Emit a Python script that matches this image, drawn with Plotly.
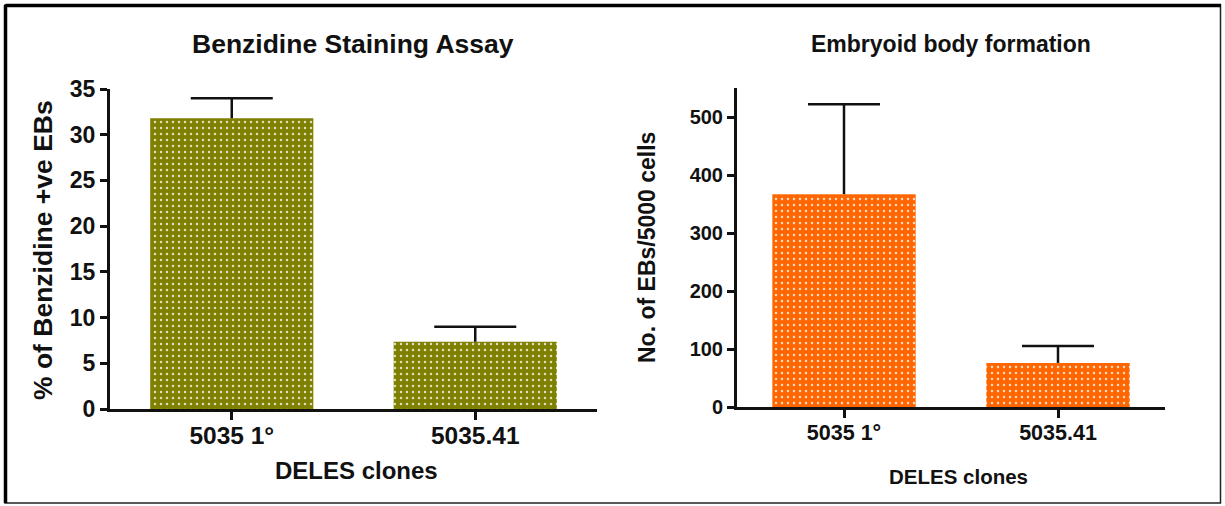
import plotly.graph_objects as go

W, H = 1225, 506

# Data
clones = ["5035 1°", "5035.41"]
benzidine_pct = [31.8, 7.35]
benzidine_err = [2.2, 1.65]
eb_counts = [367, 76]
eb_err = [155, 29]

left_ticks = [0, 5, 10, 15, 20, 25, 30, 35]
right_ticks = [0, 100, 200, 300, 400, 500]

OLIVE = "#7f7f00"
ORANGE = "#ff6600"
INK = "#111111"
FONT = "Liberation Sans, Arial, sans-serif"


def px_x(x):
    return x / W


def px_y(y):
    return 1 - y / H


def dotted(color):
    return dict(color=color, line=dict(width=0),
                pattern=dict(shape=".", fgcolor="white", fgopacity=0.75,
                             size=6, solidity=0.14))


fig = go.Figure()


def bars_with_sd(values, errors, color, cap, xa, ya):
    # bar with an upward-only stem for the SD
    fig.add_trace(go.Bar(
        x=clones, y=values, width=0.67, marker=dotted(color),
        error_y=dict(type="data", array=errors, arrayminus=[0] * len(errors),
                     symmetric=False, color=INK, thickness=2.5, width=0),
        xaxis=xa, yaxis=ya, showlegend=False, hoverinfo="skip"))
    # single cap at the top of each stem
    tops = [v + e for v, e in zip(values, errors)]
    fig.add_trace(go.Scatter(
        x=clones, y=tops, mode="markers", marker=dict(size=1, opacity=0),
        error_y=dict(type="data", array=[0] * len(tops), arrayminus=[0] * len(tops),
                     symmetric=False, color=INK, thickness=2.5, width=cap),
        xaxis=xa, yaxis=ya, showlegend=False, hoverinfo="skip"))


bars_with_sd(benzidine_pct, benzidine_err, OLIVE, 41, "x", "y")
bars_with_sd(eb_counts, eb_err, ORANGE, 36, "x2", "y2")

axis_common = dict(showline=True, linecolor=INK, linewidth=3, ticks="outside",
                   tickcolor=INK, tickwidth=3, showgrid=False, zeroline=False,
                   fixedrange=True, automargin=False)

fig.update_layout(
    width=W, height=H, autosize=False,
    margin=dict(l=0, r=0, t=0, b=0, pad=0, autoexpand=False),
    paper_bgcolor="white", plot_bgcolor="white",
    xaxis=dict(domain=[px_x(110), px_x(597)], range=[-0.5, 1.5], anchor="y",
               ticklen=8, ticklabelstandoff=-5,
               tickfont=dict(family=FONT, size=24.5, color=INK, weight="bold"),
               **axis_common),
    yaxis=dict(domain=[px_y(409), px_y(89)], range=[0, 35], anchor="x",
               tickvals=left_ticks, ticklen=7,
               tickfont=dict(family=FONT, size=23, color=INK, weight="bold"),
               **axis_common),
    xaxis2=dict(domain=[px_x(737), px_x(1165)], range=[-0.5, 1.5], anchor="y2",
                ticklen=8, ticklabelstandoff=-4,
                tickfont=dict(family=FONT, size=21.5, color=INK, weight="bold"),
                **axis_common),
    yaxis2=dict(domain=[px_y(407), px_y(88)], range=[0, 550], anchor="x2",
                tickvals=right_ticks, ticklen=7,
                tickfont=dict(family=FONT, size=20, color=INK, weight="bold"),
                **axis_common),
)


def label(text, x, y, size, angle=0):
    fig.add_annotation(text=text, x=px_x(x), y=px_y(y), xref="paper", yref="paper",
                       showarrow=False, textangle=angle, xanchor="center", yanchor="middle",
                       font=dict(family=FONT, size=size, color=INK, weight="bold"))


# Panel titles
label("Benzidine Staining Assay", 353, 44, 26.5)
label("Embryoid body formation", 951, 44, 23)
# Axis titles
label("DELES clones", 356, 470, 24)
label("DELES clones", 958, 476, 20.5)
label("% of Benzidine +ve EBs", 43, 250, 26.5, angle=-90)
label("No. of EBs/5000 cells", 647, 248, 23, angle=-90)

# Frame around the whole figure
fig.add_shape(type="rect", xref="paper", yref="paper",
              x0=px_x(5), x1=px_x(1220.5), y0=px_y(503), y1=px_y(5),
              line=dict(color="#222222", width=1.5))
fig.add_shape(type="line", xref="paper", yref="paper",
              x0=px_x(5.5), x1=px_x(1221), y0=px_y(5.5), y1=px_y(5.5),
              line=dict(color="black", width=3.5))
fig.add_shape(type="line", xref="paper", yref="paper",
              x0=px_x(5.5), x1=px_x(5.5), y0=px_y(5), y1=px_y(503),
              line=dict(color="black", width=3.5))

fig.write_html("out.html")
